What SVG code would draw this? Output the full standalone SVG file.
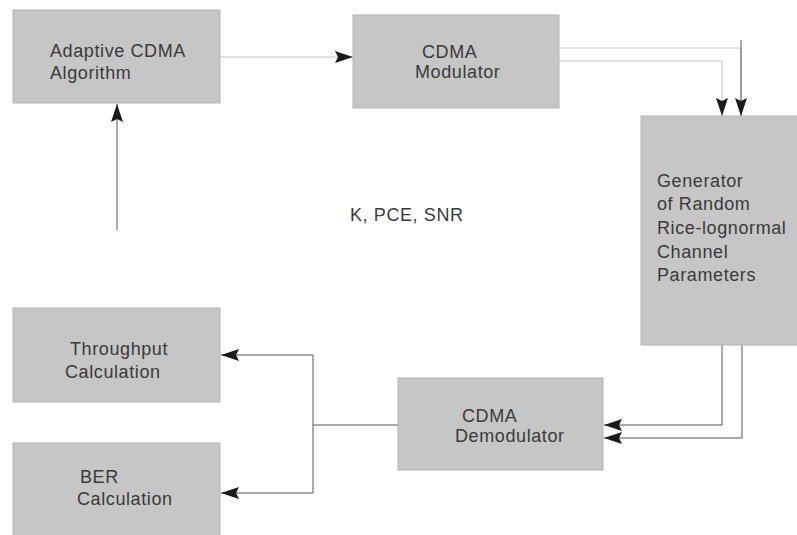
<svg xmlns="http://www.w3.org/2000/svg" width="797" height="535" viewBox="0 0 797 535">
<style>
.box{fill:#c6c6c6;stroke:#b4b4b4;stroke-width:1}
.t{font-family:"Liberation Sans",Arial,sans-serif;font-size:18px;fill:#3a3a3a;letter-spacing:0.6px}
.c{fill:none;stroke:#555;stroke-width:1}
.f{fill:none;stroke:#c4c4c4;stroke-width:1}
</style>
<defs>
<marker id="ah" markerUnits="userSpaceOnUse" markerWidth="18" markerHeight="12" refX="18" refY="6" orient="auto">
<path d="M0,0 L18,6 L0,12 L3,6 z" fill="#1a1a1a"/>
</marker>
</defs>
<rect width="797" height="535" fill="#ffffff"/>
<g id="connectors">
<path class="f" d="M220,57 H353" marker-end="url(#ah)"/>
<path class="f" d="M559,48 H741 V116"/>
<path class="c" d="M741,40 V116" marker-end="url(#ah)"/>
<path class="f" d="M559,61 H722 V116" marker-end="url(#ah)"/>
<path class="c" d="M722,345 V425 H604" marker-end="url(#ah)"/>
<path class="c" d="M742,345 V438 H604" marker-end="url(#ah)"/>
<path class="c" d="M398,425 H313"/>
<path class="c" d="M313,355 V493"/>
<path class="c" d="M313,355 H221" marker-end="url(#ah)"/>
<path class="c" d="M313,493 H221" marker-end="url(#ah)"/>
<path class="c" d="M117,230 V104" marker-end="url(#ah)"/>
</g>
<g id="adaptive">
<rect class="box" x="13" y="10" width="207" height="93"/>
<text class="t" x="50" y="57">Adaptive CDMA</text>
<text class="t" x="50" y="79">Algorithm</text>
</g>
<g id="modulator">
<rect class="box" x="353" y="15" width="206" height="93"/>
<text class="t" x="422" y="58">CDMA</text>
<text class="t" x="415" y="78">Modulator</text>
</g>
<g id="generator">
<rect class="box" x="641" y="116" width="160" height="229"/>
<text class="t" x="657" y="187">Generator</text>
<text class="t" x="657" y="210">of Random</text>
<text class="t" x="657" y="234">Rice-lognormal</text>
<text class="t" x="657" y="258">Channel</text>
<text class="t" x="657" y="281">Parameters</text>
</g>
<g id="params">
<text class="t" x="350" y="221">K, PCE, SNR</text>
</g>
<g id="throughput">
<rect class="box" x="13" y="308" width="207" height="94"/>
<text class="t" x="70" y="355">Throughput</text>
<text class="t" x="65" y="378">Calculation</text>
</g>
<g id="ber">
<rect class="box" x="13" y="443" width="207" height="96"/>
<text class="t" x="80" y="483">BER</text>
<text class="t" x="77" y="505">Calculation</text>
</g>
<g id="demodulator">
<rect class="box" x="398" y="378" width="205" height="92"/>
<text class="t" x="462" y="422">CDMA</text>
<text class="t" x="455" y="442">Demodulator</text>
</g>
</svg>
